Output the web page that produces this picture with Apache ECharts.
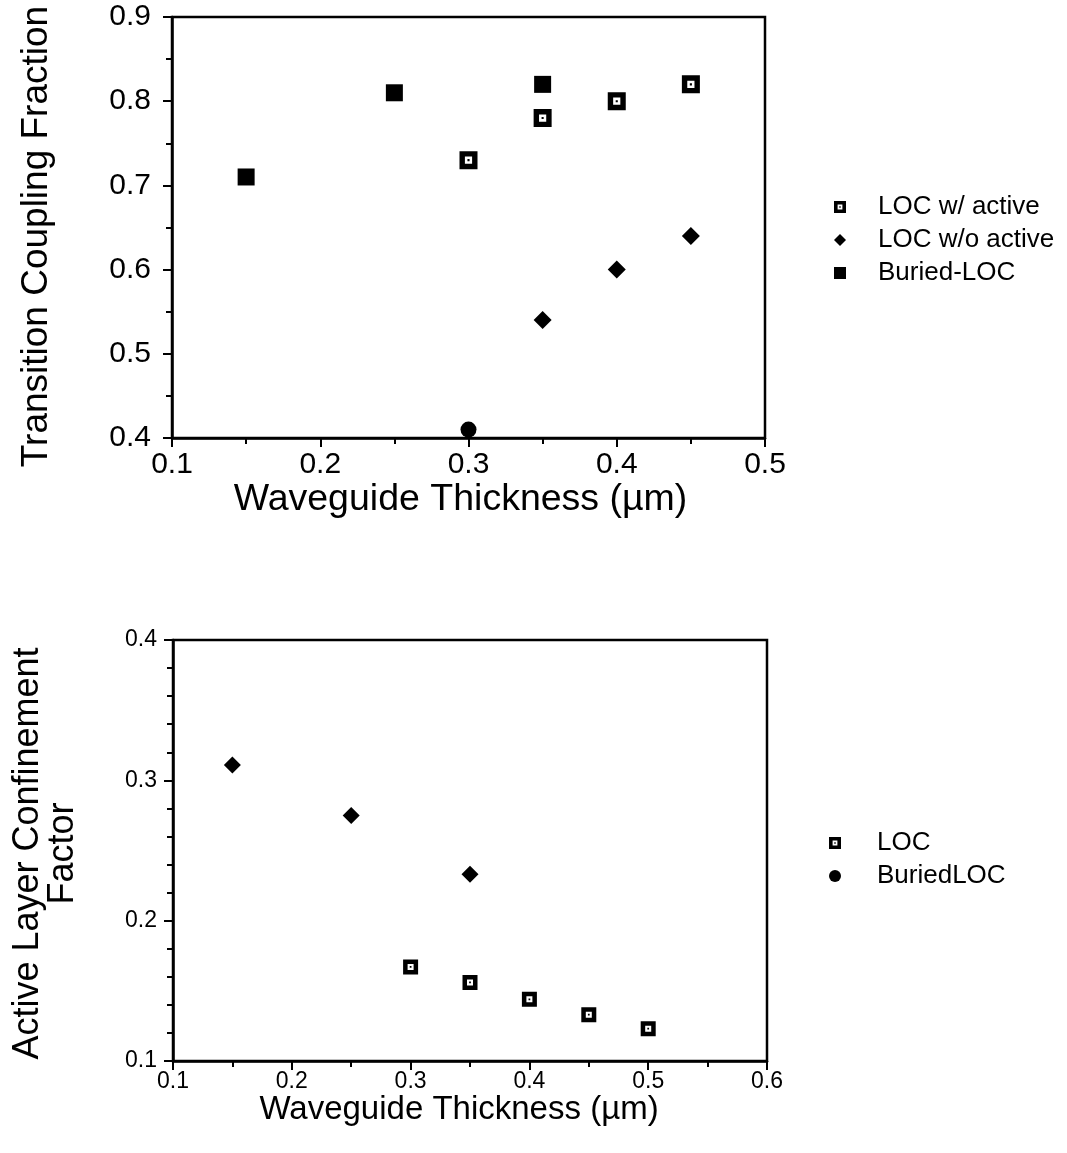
<!DOCTYPE html>
<html>
<head>
<meta charset="utf-8">
<script src="https://cdn.jsdelivr.net/npm/echarts@6/dist/echarts.min.js"></script>
<style>
html,body{margin:0;padding:0;background:#fff;}
#chart{width:1067px;height:1153px;}
</style>
</head>
<body>
<div id="chart"></div>
<script>
// ---- Data (top chart) ----
var topXTicks = ['0.1','0.2','0.3','0.4','0.5'];
var topYTicks = ['0.4','0.5','0.6','0.7','0.8','0.9'];
var topLocActiveX = [0.30, 0.35, 0.40, 0.45];
var topLocActiveY = [0.73, 0.78, 0.80, 0.82];
var topLocNoActiveX = [0.35, 0.40, 0.45];
var topLocNoActiveY = [0.54, 0.60, 0.64];
var topBuriedX = [0.15, 0.25, 0.35];
var topBuriedY = [0.71, 0.81, 0.82];
var topCircleX = [0.30];
var topCircleY = [0.41];
// ---- Data (bottom chart) ----
var botXTicks = ['0.1','0.2','0.3','0.4','0.5','0.6'];
var botYTicks = ['0.1','0.2','0.3','0.4'];
var botLocX = [0.30, 0.35, 0.40, 0.45, 0.50];
var botLocY = [0.167, 0.156, 0.144, 0.133, 0.123];
var botBuriedX = [0.15, 0.25, 0.35];
var botBuriedY = [0.311, 0.275, 0.233];

function pairs(xs, ys){ return xs.map(function(x,i){return [x, ys[i]];}); }

var dotSquare = 'path://M0,0H12V12H0Z M3.6,3.6V8.4H8.4V3.6Z M5.3,5.3H6.7V6.7H5.3Z';
var FONT = '"Liberation Sans", Arial, Helvetica, sans-serif';

var chart = echarts.init(document.getElementById('chart'), null, {renderer:'canvas'});

function xAxisCfg(grid, min, max, labelSize, nameSize, nameGap, margin, namePad){
  return {
    type:'value', gridIndex:grid, min:min, max:max, interval:0.1,
    name:'Waveguide Thickness (\u00b5m)', nameLocation:'middle', nameGap:nameGap,
    nameTextStyle:{color:'#000', fontSize:nameSize, fontFamily:FONT, padding:namePad},
    axisLine:{show:true, onZero:false, lineStyle:{color:'#000', width:2.5}},
    axisTick:{show:true, inside:false, length:9, lineStyle:{color:'#000', width:2}},
    minorTick:{show:true, splitNumber:2, length:6, lineStyle:{color:'#000', width:2}},
    splitLine:{show:false}, minorSplitLine:{show:false},
    axisLabel:{color:'#000', fontSize:labelSize, fontFamily:FONT, margin:margin,
      formatter:function(v){return v.toFixed(1);}}
  };
}
function yAxisCfg(grid, min, max, split, labelSize, name, nameSize, nameGap, margin, lineHeight, namePad){
  return {
    type:'value', gridIndex:grid, min:min, max:max, interval:0.1,
    name:name, nameLocation:'middle', nameGap:nameGap, nameRotate:90,
    nameTextStyle:{color:'#000', fontSize:nameSize, fontFamily:FONT, lineHeight:lineHeight, align:'center', padding:namePad},
    axisLine:{show:true, onZero:false, lineStyle:{color:'#000', width:2.5}},
    axisTick:{show:true, inside:false, length:9, lineStyle:{color:'#000', width:2}},
    minorTick:{show:true, splitNumber:split, length:6, lineStyle:{color:'#000', width:2}},
    splitLine:{show:false}, minorSplitLine:{show:false},
    axisLabel:{color:'#000', fontSize:labelSize, fontFamily:FONT, margin:margin,
      formatter:function(v){return v.toFixed(1);}}
  };
}

var option = {
  backgroundColor:'#fff',
  animation:false,
  grid:[
    {left:172, top:17, width:593, height:421, containLabel:false, outerBoundsMode:'none',
      show:true, borderColor:'#000', borderWidth:2.5, backgroundColor:'transparent'},
    {left:173, top:640, width:594, height:421, containLabel:false, outerBoundsMode:'none',
      show:true, borderColor:'#000', borderWidth:2.5, backgroundColor:'transparent'}
  ],
  xAxis:[
    xAxisCfg(0, 0.1, 0.5, 30, 37.5, 35, 12, [0,16,0,0]),
    xAxisCfg(1, 0.1, 0.6, 23, 33, 21, 9, [0,22,0,0])
  ],
  yAxis:[
    yAxisCfg(0, 0.4, 0.9, 2, 30, 'Transition Coupling Fraction', 37, 117, 21, 37, [0,18,0,0]),
    yAxisCfg(1, 0.1, 0.4, 5, 23, 'Active Layer Confinement\nFactor', 36, 92, 16, 35, [0,6,0,0])
  ],
  legend:[
    {
      orient:'vertical', left:829, top:189, itemWidth:12, itemHeight:12, itemGap:7,
      textStyle:{color:'#000', fontSize:26, fontFamily:FONT, lineHeight:26, padding:[0,0,0,27]},
      data:[
        {name:'LOC w/ active', icon:dotSquare},
        {name:'LOC w/o active', icon:'diamond'},
        {name:'Buried-LOC', icon:'rect'}
      ]
    },
    {
      orient:'vertical', left:824, top:825, itemWidth:12, itemHeight:12, itemGap:7,
      textStyle:{color:'#000', fontSize:26, fontFamily:FONT, lineHeight:26, padding:[0,0,0,31]},
      data:[
        {name:'LOC', icon:dotSquare},
        {name:'BuriedLOC', icon:'circle'}
      ]
    }
  ],
  series:[
    {name:'LOC w/ active', type:'scatter', xAxisIndex:0, yAxisIndex:0, symbol:dotSquare, symbolSize:18,
      itemStyle:{color:'#000', opacity:1}, data:pairs(topLocActiveX, topLocActiveY)},
    {name:'LOC w/o active', type:'scatter', xAxisIndex:0, yAxisIndex:0, symbol:'diamond', symbolSize:18,
      itemStyle:{color:'#000', opacity:1}, data:pairs(topLocNoActiveX, topLocNoActiveY)},
    {name:'Buried-LOC', type:'scatter', xAxisIndex:0, yAxisIndex:0, symbol:'rect', symbolSize:17,
      itemStyle:{color:'#000', opacity:1}, data:pairs(topBuriedX, topBuriedY)},
    {name:'Buried-LOC w/o active', type:'scatter', xAxisIndex:0, yAxisIndex:0, symbol:'circle', symbolSize:16,
      itemStyle:{color:'#000', opacity:1}, data:pairs(topCircleX, topCircleY)},
    {name:'LOC', type:'scatter', xAxisIndex:1, yAxisIndex:1, symbol:dotSquare, symbolSize:15,
      itemStyle:{color:'#000', opacity:1}, data:pairs(botLocX, botLocY)},
    {name:'BuriedLOC', type:'scatter', xAxisIndex:1, yAxisIndex:1, symbol:'diamond', symbolSize:17,
      itemStyle:{color:'#000', opacity:1}, data:pairs(botBuriedX, botBuriedY)}
  ]
};
chart.setOption(option);
</script>
</body>
</html>
